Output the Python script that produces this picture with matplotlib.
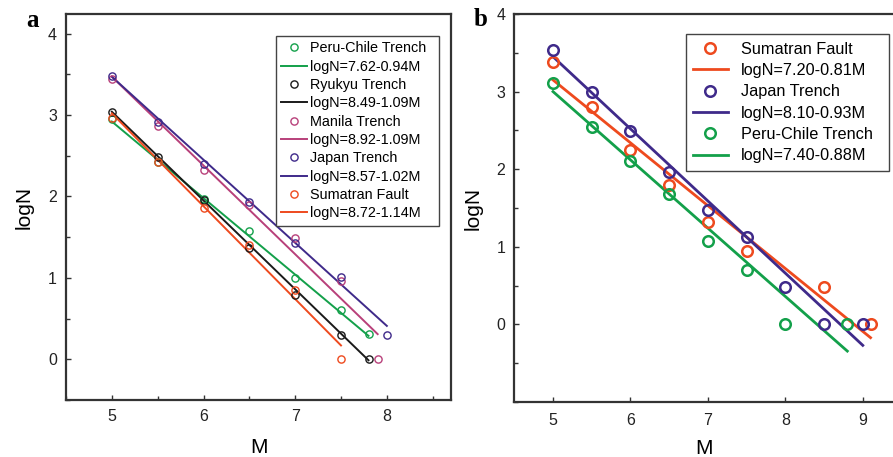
import numpy as np
import matplotlib
matplotlib.use("Agg")
import matplotlib.pyplot as plt
from matplotlib.lines import Line2D
from matplotlib.ticker import MultipleLocator, FixedLocator

plt.rcParams['font.family'] = ['Liberation Sans', 'DejaVu Sans']

GREEN = "#13a04a"
BLACK = "#1a1a1a"
PINK = "#b8407a"
PURPLE = "#3f2a8a"
ORANGE = "#ee4a1e"

# panel a: observed logN per magnitude bin
a_names = ["Peru-Chile Trench", "Ryukyu Trench", "Manila Trench", "Japan Trench", "Sumatran Fault"]
a_colors = [GREEN, BLACK, PINK, PURPLE, ORANGE]
a_m = [
    [5.0, 5.5, 6.0, 6.5, 7.0, 7.5, 7.8],
    [5.0, 5.5, 6.0, 6.5, 7.0, 7.5, 7.8],
    [5.0, 5.5, 6.0, 6.5, 7.0, 7.5, 7.9],
    [5.0, 5.5, 6.0, 6.5, 7.0, 7.5, 8.0],
    [5.0, 5.5, 6.0, 6.5, 7.0, 7.5],
]
a_logn = [
    [2.95, 2.42, 1.97, 1.58, 1.00, 0.60, 0.31],
    [3.04, 2.48, 1.96, 1.37, 0.79, 0.30, 0.0],
    [3.44, 2.86, 2.33, 1.89, 1.49, 0.96, 0.0],
    [3.48, 2.91, 2.40, 1.93, 1.43, 1.01, 0.30],
    [2.96, 2.42, 1.86, 1.40, 0.85, 0.0],
]
a_fit = [(7.62, 0.94), (8.49, 1.09), (8.92, 1.09), (8.57, 1.02), (8.72, 1.14)]

# panel b
b_names = ["Sumatran Fault", "Japan Trench", "Peru-Chile Trench"]
b_colors = [ORANGE, PURPLE, GREEN]
b_m = [
    [5.0, 5.5, 6.0, 6.5, 7.0, 7.5, 8.5, 9.1],
    [5.0, 5.5, 6.0, 6.5, 7.0, 7.5, 8.0, 8.5, 9.0],
    [5.0, 5.5, 6.0, 6.5, 7.0, 7.5, 8.0, 8.8],
]
b_logn = [
    [3.38, 2.80, 2.25, 1.80, 1.32, 0.95, 0.48, 0.0],
    [3.54, 3.00, 2.49, 1.97, 1.47, 1.12, 0.48, 0.0, 0.0],
    [3.11, 2.55, 2.10, 1.68, 1.08, 0.70, 0.0, 0.0],
]
b_fit = [(7.20, 0.81), (8.10, 0.93), (7.40, 0.88)]


def style_axes(ax, spine_color="#333333"):
    for s in ax.spines.values():
        s.set_linewidth(1.6)
        s.set_color(spine_color)
    ax.tick_params(which="both", direction="in", colors="#333333", labelcolor="#222222",
                   labelsize=11.5, pad=6.5)
    ax.tick_params(which="major", length=3.5, width=1)
    ax.tick_params(which="minor", length=3, width=1)


def draw_panel(ax, names, colors, ms, logns, fits, ms_size, mew, lw, fontsize, legend_kw):
    handles = []
    labels = []
    for name, c, m, y, (a, b) in zip(names, colors, ms, logns, fits):
        ax.plot(m, y, "o", mfc="none", mec=c, ms=ms_size, mew=mew, zorder=3)
        xx = np.array([m[0], m[-1]])
        ax.plot(xx, a - b * xx, "-", color=c, lw=lw, zorder=2)
        handles.append(Line2D([], [], ls="none", marker="o", mfc="none", mec=c, ms=ms_size, mew=mew))
        labels.append(name)
        handles.append(Line2D([], [], color=c, lw=lw))
        labels.append(f"logN={a:.2f}-{b:.2f}M")
    # expand mode gives the box a fixed width with the entries packed to the left
    leg = ax.legend(handles, labels, fontsize=fontsize, frameon=True, fancybox=False,
                    borderaxespad=0, loc="upper left", mode="expand", **legend_kw)
    leg.get_frame().set_edgecolor("#444444")
    leg.get_frame().set_linewidth(1.0)
    leg.get_frame().set_alpha(1)
    return leg


fig = plt.figure(figsize=(8.93, 4.57), dpi=100)

ax1 = fig.add_axes([66 / 893, 57 / 457, (451 - 66) / 893, (400 - 14) / 457])
style_axes(ax1)
draw_panel(ax1, a_names, a_colors, a_m, a_logn, a_fit, 5.2, 1.0, 1.4, 10.4,
           dict(bbox_to_anchor=(0.5447, 0, 0.4249, 0.9438), handlelength=1.78, handletextpad=0.2,
                labelspacing=0.3, borderpad=0.4))
ax1.set_xlim(4.5, 8.7)
ax1.set_ylim(-0.5, 4.24)
ax1.xaxis.set_major_locator(MultipleLocator(1))
ax1.xaxis.set_minor_locator(MultipleLocator(0.5))
ax1.yaxis.set_major_locator(MultipleLocator(1))
ax1.yaxis.set_minor_locator(MultipleLocator(0.5))
ax1.set_xlabel("M", fontsize=15, labelpad=10)
ax1.set_ylabel("logN", fontsize=15, labelpad=10.5)

ax2 = fig.add_axes([514.3 / 893, 55 / 457, (893 - 514.3) / 893, (402 - 14) / 457])
style_axes(ax2)
ax2.spines["right"].set_visible(False)
draw_panel(ax2, b_names, b_colors, b_m, b_logn, b_fit, 7.6, 1.8, 2.0, 11.7,
           dict(bbox_to_anchor=(0.4526, 0, 0.5376, 0.9477), handlelength=2.15, handletextpad=0.78,
                labelspacing=0.39, borderpad=0.45))
ax2.set_xlim(4.5, 9.39)
ax2.set_ylim(-1, 4)
ax2.xaxis.set_major_locator(MultipleLocator(1))
ax2.yaxis.set_major_locator(FixedLocator([0, 1, 2, 3, 4]))
ax2.yaxis.set_minor_locator(MultipleLocator(0.5))
ax2.tick_params(axis="x", pad=8)
ax2.set_xlabel("M", fontsize=15, labelpad=8)
ax2.set_ylabel("logN", fontsize=15, labelpad=10)

fig.text(26 / 893, 1 - 26.7 / 457, "a", family=["Liberation Serif", "DejaVu Serif"],
         fontweight="bold", fontsize=18, va="baseline", ha="left")
fig.text(474 / 893, 1 - 26 / 457, "b", family=["Liberation Serif", "DejaVu Serif"],
         fontweight="bold", fontsize=18, va="baseline", ha="left")

fig.savefig("out.png", dpi=100)
